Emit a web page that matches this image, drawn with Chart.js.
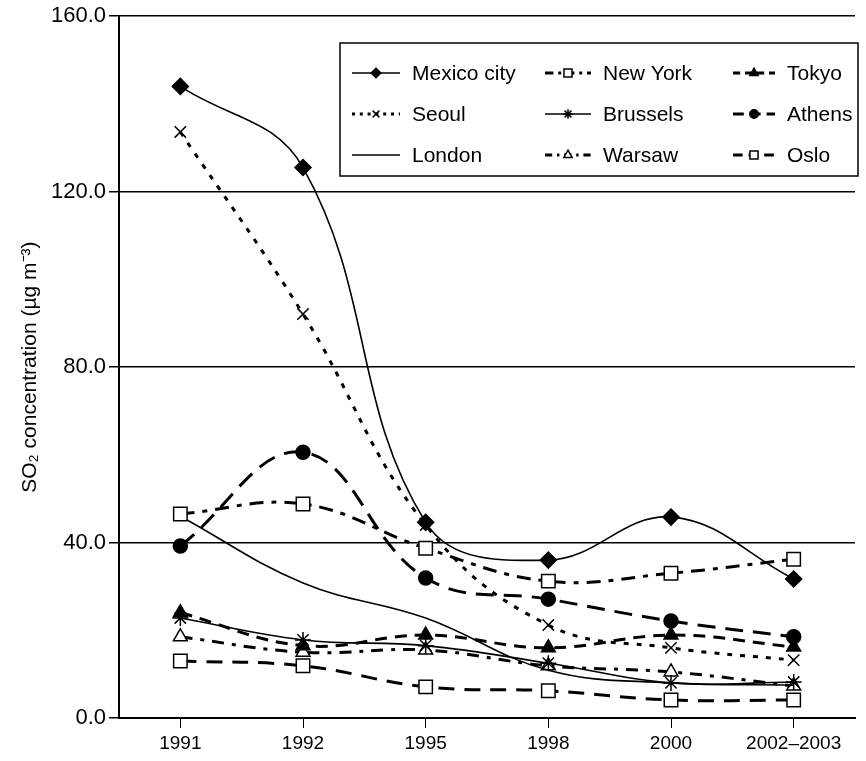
<!DOCTYPE html>
<html>
<head>
<meta charset="utf-8">
<script src="https://cdn.jsdelivr.net/npm/chart.js@4.4.1/dist/chart.umd.min.js"></script>
<style>
  html, body { margin: 0; padding: 0; background: #fff; }
  #wrap { width: 866px; height: 761px; }
</style>
</head>
<body>
<div id="wrap"><canvas id="so2Chart" width="866" height="761"></canvas></div>
<script>
// categorias y valores (µg m-3)
const years = ['1991', '1992', '1995', '1998', '2000', '2002\u20132003'];
const yTicks = [0, 40, 80, 120, 160];

const mexicoCity = [144.0, 125.5, 44.6, 36.0, 45.8, 31.7];
const seoul      = [133.6, 92.1, 44.0, 21.2, 16.0, 13.2];
const london     = [46.0, 30.8, 22.8, 10.9, 8.0, 7.5];
const newYork    = [46.5, 48.8, 38.7, 31.2, 33.0, 36.2];
const brussels   = [22.8, 17.8, 16.5, 12.5, 8.0, 8.2];
const tokyo      = [24.0, 16.5, 18.9, 16.0, 18.9, 16.2];
const athens     = [39.2, 60.6, 31.9, 27.1, 22.1, 18.5];
const warsaw     = [18.5, 15.0, 15.5, 11.9, 10.5, 7.3];
const oslo       = [13.0, 11.9, 7.1, 6.2, 4.1, 4.1];

const FONT = '"Liberation Sans", Arial, sans-serif';
const INK = '#000';

function serie(label, data, extra) {
  return Object.assign({
    label: label,
    data: data,
    borderColor: INK,
    backgroundColor: INK,
    pointBorderColor: INK,
    pointBackgroundColor: INK,
    borderWidth: 3,
    pointRadius: 7,
    pointBorderWidth: 1.5,
    tension: 0.4,
    fill: false
  }, extra);
}

const datasets = [
  serie('Mexico city', mexicoCity, { borderWidth: 1.6, pointStyle: 'rectRot', pointRadius: 8 }),
  serie('New York', newYork, { borderDash: [14, 8, 5, 8], pointStyle: 'rect', pointBackgroundColor: '#fff', pointRadius: 9.5 }),
  serie('Tokyo', tokyo, { borderDash: [12, 8], pointStyle: 'triangle', pointRadius: 8 }),
  serie('Seoul', seoul, { borderDash: [5, 8], pointStyle: 'crossRot', pointRadius: 8, pointBorderWidth: 1.5 }),
  serie('Brussels', brussels, { borderWidth: 1.6, pointStyle: 'star', pointRadius: 8, pointBorderWidth: 1.5 }),
  serie('Athens', athens, { borderDash: [18, 10], pointStyle: 'circle', pointRadius: 7 }),
  serie('London', london, { borderWidth: 1.6, pointRadius: 0 }),
  serie('Warsaw', warsaw, { borderDash: [12, 8, 4, 8], pointStyle: 'triangle', pointBackgroundColor: '#fff', pointRadius: 8 }),
  serie('Oslo', oslo, { borderDash: [16, 10], pointStyle: 'rect', pointBackgroundColor: '#fff', pointRadius: 9.5 })
];

// leyenda dentro del area del grafico, con marco
const boxLegend = {
  id: 'boxLegend',
  afterDraw(chart) {
    const ctx = chart.ctx;
    const x0 = 340, y0 = 43, w = 518, h = 133;
    ctx.save();
    ctx.fillStyle = '#fff';
    ctx.fillRect(x0, y0, w, h);
    ctx.strokeStyle = INK;
    ctx.lineWidth = 1.5;
    ctx.strokeRect(x0, y0, w, h);

    const cols = [352, 545, 733];
    const rows = [73, 114, 155];
    const sampleW = [48, 46, 42];
    ctx.font = '21px ' + FONT;
    ctx.textBaseline = 'middle';
    chart.data.datasets.forEach((ds, i) => {
      const c = i % 3, r = Math.floor(i / 3);
      const sx = cols[c], sy = rows[r], sw = sampleW[c];
      ctx.strokeStyle = INK;
      ctx.lineWidth = ds.borderWidth;
      ctx.setLineDash(ds.borderDash ? ds.borderDash.map(v => v * 0.6) : []);
      ctx.beginPath();
      ctx.moveTo(sx, sy);
      ctx.lineTo(sx + sw, sy);
      ctx.stroke();
      ctx.setLineDash([]);
      if (ds.pointRadius > 0) {
        ctx.fillStyle = ds.pointBackgroundColor;
        ctx.strokeStyle = INK;
        ctx.lineWidth = ds.pointBorderWidth;
        Chart.helpers.drawPoint(ctx, {
          pointStyle: ds.pointStyle,
          radius: ds.pointRadius * 0.6,
          rotation: 0,
          borderWidth: ds.pointBorderWidth
        }, sx + sw / 2, sy);
      }
      ctx.fillStyle = INK;
      ctx.fillText(ds.label, sx + sw + 12, sy + 1);
    });
    ctx.restore();
  }
};

const ctx = document.getElementById('so2Chart').getContext('2d');

new Chart(ctx, {
  type: 'line',
  data: { labels: years, datasets: datasets },
  options: {
    responsive: false,
    animation: false,
    layout: { padding: { top: 16, right: 3, left: 0, bottom: 0 } },
    plugins: {
      legend: { display: false },
      tooltip: { enabled: false }
    },
    scales: {
      x: {
        offset: true,
        grid: { display: true, drawOnChartArea: false, drawTicks: true, tickLength: 10, color: INK, lineWidth: 1 },
        border: { display: true, color: INK, width: 2 },
        ticks: { color: INK, font: { family: FONT, size: 19 }, padding: 4, maxRotation: 0 },
        afterFit(scale) { scale.height = 43; }
      },
      y: {
        min: 0,
        max: 160,
        afterBuildTicks(scale) { scale.ticks = yTicks.map(v => ({ value: v })); },
        grid: { color: INK, lineWidth: 1.5, tickLength: 10 },
        border: { display: true, color: INK, width: 2 },
        ticks: {
          color: INK,
          font: { family: FONT, size: 22 },
          padding: 3,
          callback: v => v.toFixed(1)
        },
        title: {
          display: true,
          text: 'SO\u2082 concentration (\u00b5g m\u207b\u00b3)',
          color: INK,
          font: { family: FONT, size: 21 },
          padding: { top: 18, bottom: 0 }
        },
        afterFit(scale) { scale.width = 119; }
      }
    }
  },
  plugins: [boxLegend]
});
</script>
</body>
</html>
